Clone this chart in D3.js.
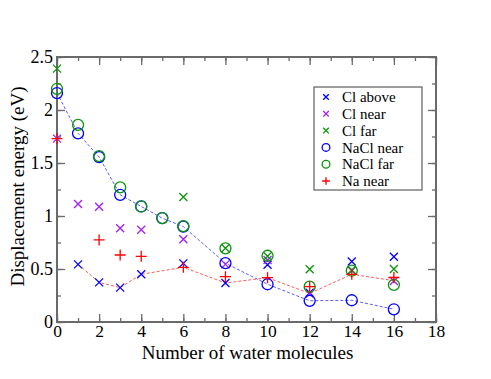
<!DOCTYPE html>
<html>
<head>
<meta charset="utf-8">
<script src="https://cdn.jsdelivr.net/npm/d3@7"></script>
<style>
  body { margin: 0; background: #fff; }
  svg text { font-family: 'Liberation Serif', 'Times New Roman', Times, serif; }
</style>
</head>
<body>
<div id="chart"></div>
<script>
// data (x = number of water molecules, y = energy in eV)
var clAboveX = [1, 2, 3, 4, 6, 8, 10, 12, 14, 16];
var clAboveY = [0.544, 0.374, 0.324, 0.45, 0.553, 0.368, 0.54, 0.277, 0.57, 0.616];

var clNearX = [0, 1, 2, 3, 4, 6, 8, 10, 12, 14, 16];
var clNearY = [1.73, 1.113, 1.088, 0.884, 0.871, 0.78, 0.544, 0.585, 0.265, 0.484, 0.387];

var clFarX = [0, 6, 8, 10, 12, 14, 16];
var clFarY = [2.39, 1.18, 0.695, 0.62, 0.497, 0.49, 0.50];

var naclNearX = [0, 1, 2, 3, 4, 5, 6, 8, 10, 12, 14, 16];
var naclNearY = [2.16, 1.78, 1.556, 1.20, 1.09, 0.98, 0.90, 0.555, 0.356, 0.20, 0.205, 0.12];

var naclFarX = [0, 1, 2, 3, 4, 5, 6, 8, 10, 12, 14, 16];
var naclFarY = [2.20, 1.86, 1.565, 1.27, 1.09, 0.98, 0.905, 0.695, 0.625, 0.333, 0.484, 0.35];

var naNearX = [0, 2, 3, 4, 6, 8, 10, 12, 14, 16];
var naNearY = [1.73, 0.774, 0.632, 0.62, 0.516, 0.428, 0.418, 0.333, 0.45, 0.42];

// red dashed guide (lowest Cl / Na value at each size)
var minLineX = [1, 2, 3, 4, 6, 8, 10, 12, 14, 16];
var minLineY = [0.544, 0.374, 0.324, 0.45, 0.516, 0.368, 0.418, 0.27, 0.45, 0.39];

var xTicks = [0, 2, 4, 6, 8, 10, 12, 14, 16, 18];
var yTicks = [0, 0.5, 1, 1.5, 2, 2.5];

var W = 491, H = 379;
var margin = {top: 57, right: 55, bottom: 57, left: 57},
    width = W - margin.left - margin.right,
    height = H - margin.top - margin.bottom;

var serif = "'Liberation Serif', 'Times New Roman', Times, serif";

var svg = d3.select("#chart").append("svg")
    .attr("width", W)
    .attr("height", H);

var g = svg.append("g")
    .attr("transform", `translate(${margin.left}, ${margin.top})`);

var x = d3.scaleLinear().domain([0, 18]).range([0, width]);
var y = d3.scaleLinear().domain([0, 2.5]).range([height, 0]);

var axisCol = "#6a6a6a";

// frame
g.append("rect")
    .attr("width", width).attr("height", height)
    .attr("fill", "none")
    .attr("stroke", axisCol)
    .attr("stroke-width", 2);

// ticks pointing inward on all four sides
function tickAxis(axis, tr) {
    var a = g.append("g").attr("transform", tr).call(axis);
    a.attr("font-family", serif).attr("font-size", 18);
    a.select(".domain").remove();
    a.selectAll("line").attr("stroke", axisCol).attr("stroke-width", 1.3);
    return a;
}
var xMinor = d3.range(0, 19, 1), yMinor = d3.range(0, 2.51, 0.25);

tickAxis(d3.axisBottom(x).tickValues(xMinor).tickSize(-4).tickFormat(""), `translate(0,${height})`);
tickAxis(d3.axisTop(x).tickValues(xMinor).tickSize(-4).tickFormat(""), "translate(0,0)");
tickAxis(d3.axisLeft(y).tickValues(yMinor).tickSize(-4).tickFormat(""), "translate(0,0)");
tickAxis(d3.axisRight(y).tickValues(yMinor).tickSize(-4).tickFormat(""), `translate(${width},0)`);

var xAx = tickAxis(d3.axisBottom(x).tickValues(xTicks).tickSize(-8).tickPadding(3).tickFormat(d3.format("")), `translate(0,${height})`);
tickAxis(d3.axisTop(x).tickValues(xTicks).tickSize(-8).tickFormat(""), "translate(0,0)");
var yAx = tickAxis(d3.axisLeft(y).tickValues(yTicks).tickSize(-8).tickPadding(4).tickFormat(d3.format("")), "translate(0,0)");
tickAxis(d3.axisRight(y).tickValues(yTicks).tickSize(-8).tickFormat(""), `translate(${width},0)`);

xAx.selectAll("text").style("font-size", "17.5px").attr("fill", "#000");
yAx.selectAll("text").style("font-size", "18px").attr("fill", "#000");

// axis titles
svg.append("text")
    .attr("x", margin.left + width / 2 + 1)
    .attr("y", 359)
    .attr("text-anchor", "middle")
    .style("font-size", "19px")
    .text("Number of water molecules");

svg.append("text")
    .attr("transform", `translate(24, ${margin.top + height / 2 - 3}) rotate(-90)`)
    .attr("text-anchor", "middle")
    .style("font-size", "19px")
    .text("Displacement energy (eV)");

// dashed guide lines
var line = d3.line().x(function (d) { return x(d[0]); }).y(function (d) { return y(d[1]); });

g.append("path")
    .datum(d3.zip(naclNearX, naclNearY))
    .attr("fill", "none")
    .attr("stroke", "#5a5aff")
    .attr("stroke-width", 1)
    .attr("stroke-dasharray", "3,2")
    .attr("d", line);

g.append("path")
    .datum(d3.zip(minLineX, minLineY))
    .attr("fill", "none")
    .attr("stroke", "#ff5a5a")
    .attr("stroke-width", 1)
    .attr("stroke-dasharray", "3,2")
    .attr("d", line);

var blue = "#0000ff", violet = "#a020f0", green = "#0a960a", red = "#ff0000";

function drawSymbol(sel, type, color) {
    sel.attr("fill", "none").attr("stroke", color).attr("stroke-width", 1.3)
        .attr("d", function () {
            if (type === "x") return "M-4,-4L4,4M-4,4L4,-4";
            if (type === "+") return "M-5.5,0L5.5,0M0,-5.5L0,5.5";
            return d3.symbol().type(d3.symbolCircle).size(Math.PI * 5.5 * 5.5)();
        });
}

var series = [
    {name: "Cl above", xs: clAboveX, ys: clAboveY, sym: "x", color: blue},
    {name: "Cl near", xs: clNearX, ys: clNearY, sym: "x", color: violet},
    {name: "Cl far", xs: clFarX, ys: clFarY, sym: "x", color: green},
    {name: "NaCl near", xs: naclNearX, ys: naclNearY, sym: "o", color: blue},
    {name: "NaCl far", xs: naclFarX, ys: naclFarY, sym: "o", color: green},
    {name: "Na near", xs: naNearX, ys: naNearY, sym: "+", color: red}
];

series.forEach(function (s) {
    g.append("g").selectAll("path")
        .data(d3.zip(s.xs, s.ys))
        .enter().append("path")
        .attr("transform", function (d) { return `translate(${x(d[0])},${y(d[1])})`; })
        .call(drawSymbol, s.sym, s.color);
});

// legend
var legend = svg.append("g").attr("transform", "translate(314, 87)");
legend.append("rect")
    .attr("width", 108).attr("height", 103)
    .attr("fill", "#fff")
    .attr("stroke", axisCol)
    .attr("stroke-width", 1.3);

var rows = legend.selectAll(".row")
    .data(series)
    .enter().append("g")
    .attr("transform", function (d, i) { return `translate(0, ${10 + i * 16.8})`; });

rows.append("path")
    .attr("transform", "translate(12,0) scale(0.7)")
    .each(function (d) { d3.select(this).call(drawSymbol, d.sym, d.color); })
    .attr("stroke-width", 1.9);

rows.append("text")
    .attr("x", 28)
    .attr("y", 0)
    .attr("dy", "0.35em")
    .style("font-size", "15px")
    .text(function (d) { return d.name; });
</script>
</body>
</html>
